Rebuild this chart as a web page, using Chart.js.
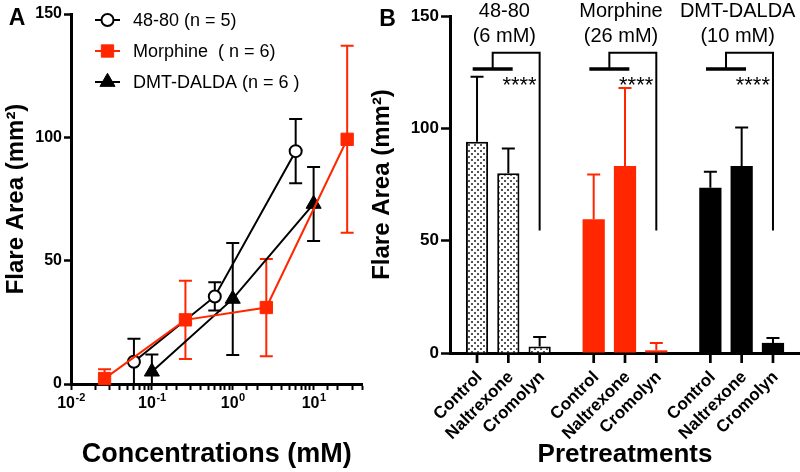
<!DOCTYPE html>
<html><head><meta charset="utf-8">
<script src="https://cdn.jsdelivr.net/npm/chart.js@4.4.1/dist/chart.umd.min.js"></script>
<style>
html,body{margin:0;padding:0;background:#fff;}
#wrap{position:relative;width:800px;height:472px;overflow:hidden;background:#fff;}
#cA{position:absolute;left:0;top:0;}
#cB{position:absolute;left:360px;top:0;}
</style></head><body>
<div id="wrap">
<canvas id="cA" width="372" height="472"></canvas>
<canvas id="cB" width="440" height="472"></canvas>
</div>
<script>
// ---------- Panel A data ----------
const seriesNames = ['48-80 (n = 5)', 'Morphine  ( n = 6)', 'DMT-DALDA (n = 6 )'];
const conc4880 = [0.06, 0.6, 6];
const flare4880 = [9, 35.5, 94.4];
const sem4880 = [9.3, 5.7, 13];
const concMorphine = [0.026, 0.26, 2.6, 26];
const flareMorphine = [2.2, 26, 31, 99.2];
const semMorphine = [3.8, 15.9, 19.7, 37.9];
const concDmt = [0.1, 1, 10];
const flareDmt = [5, 34.5, 73];
const semDmt = [7, 22.7, 15];
const xTickValues = [0.01, 0.1, 1, 10];
const xTickBase = '10';
const xTickExponents = ['-2', '-1', '0', '1'];
const yTickStep = 50;

// ---------- Panel B data ----------
const groups = ['48-80', 'Morphine', 'DMT-DALDA'];
const groupDoses = ['(6 mM)', '(26 mM)', '(10 mM)'];
const pretreatments = ['Control', 'Naltrexone', 'Cromolyn'];
const controlMean = [94, 59.5, 73.6];
const controlErr = [29, 20, 7.1];
const naltrexoneMean = [80, 83.2, 83.2];
const naltrexoneErr = [11, 34.8, 17.2];
const cromolynMean = [2.9, 1.2, 4.5];
const cromolynErr = [4.2, 3.2, 2.2];
const sigLabel = '****';

const RED = 'rgb(255,38,0)';
const FONT = '"Liberation Sans", Arial, Helvetica, sans-serif';
Chart.defaults.font.family = FONT;
Chart.defaults.color = '#000';

const pts = (xs, ys) => xs.map((x, i) => ({x: x, y: ys[i]}));

// ---------- Panel A plugins ----------
const errorBarsA = {
  id: 'errorBarsA',
  beforeDatasetsDraw(chart) {
    const ctx = chart.ctx, xs = chart.scales.x, ys = chart.scales.y;
    chart.data.datasets.forEach(ds => {
      ctx.save();
      ctx.strokeStyle = ds.borderColor; ctx.lineWidth = 2;
      ds.data.forEach((p, i) => {
        const e = ds.err[i];
        const x = xs.getPixelForValue(p.x);
        const yt = ys.getPixelForValue(p.y + e);
        const lowV = p.y - e;
        const yb = ys.getPixelForValue(Math.max(0, lowV));
        ctx.beginPath();
        ctx.moveTo(x, yt); ctx.lineTo(x, yb);
        ctx.moveTo(x - 6.5, yt); ctx.lineTo(x + 6.5, yt);
        if (lowV > 0) { ctx.moveTo(x - 6.5, yb); ctx.lineTo(x + 6.5, yb); }
        ctx.stroke();
      });
      ctx.restore();
    });
  }
};
const legendA = {
  id: 'legendA',
  afterDraw(chart) {
    const ctx = chart.ctx, xs = chart.scales.x;
    ctx.save();
    chart.data.datasets.forEach((ds, i) => {
      const y = 20 + i * 31;
      ctx.strokeStyle = ds.borderColor; ctx.lineWidth = 2;
      ctx.beginPath(); ctx.moveTo(95, y); ctx.lineTo(120, y); ctx.stroke();
      ctx.fillStyle = ds.pointBackgroundColor; ctx.strokeStyle = ds.borderColor;
      ctx.lineWidth = ds.pointBorderWidth;
      Chart.helpers.drawPoint(ctx, {pointStyle: ds.pointStyle, radius: ds.pointRadius, borderWidth: ds.pointBorderWidth, rotation: 0}, 107.5, y);
      ctx.fillStyle = '#000';
      ctx.font = '18px ' + FONT;
      ctx.textAlign = 'left'; ctx.textBaseline = 'middle';
      ctx.fillText(ds.label, 133, y + 1);
    });
    // decade tick labels with superscript exponents
    ctx.fillStyle = '#000'; ctx.textAlign = 'left'; ctx.textBaseline = 'alphabetic';
    xTickValues.forEach((v, k) => {
      const x = xs.getPixelForValue(v);
      ctx.font = 'bold 16px ' + FONT;
      const w1 = ctx.measureText(xTickBase).width;
      ctx.font = 'bold 11px ' + FONT;
      const w2 = ctx.measureText(xTickExponents[k]).width;
      const x0 = x - (w1 + w2) / 2;
      ctx.font = 'bold 16px ' + FONT;
      ctx.fillText(xTickBase, x0, 408);
      ctx.font = 'bold 11px ' + FONT;
      ctx.fillText(xTickExponents[k], x0 + w1 + 0.5, 401);
    });
    ctx.font = 'bold 23px ' + FONT;
    ctx.textAlign = 'center'; ctx.textBaseline = 'middle';
    ctx.fillText('A', 17, 19);
    ctx.restore();
  }
};

new Chart(document.getElementById('cA'), {
  type: 'line',
  data: {
    datasets: [
      {label: seriesNames[0], data: pts(conc4880, flare4880), err: sem4880,
       borderColor: '#000', backgroundColor: '#fff', pointBackgroundColor: '#fff',
       pointStyle: 'circle', pointRadius: 6, pointBorderWidth: 2, borderWidth: 2, order: 1},
      {label: seriesNames[1], data: pts(concMorphine, flareMorphine), err: semMorphine,
       borderColor: RED, backgroundColor: RED, pointBackgroundColor: RED,
       pointStyle: 'rect', pointRadius: 8.7, pointBorderWidth: 1, borderWidth: 2, order: 0},
      {label: seriesNames[2], data: pts(concDmt, flareDmt), err: semDmt,
       borderColor: '#000', backgroundColor: '#000', pointBackgroundColor: '#000',
       pointStyle: 'triangle', pointRadius: 8.7, pointBorderWidth: 1, borderWidth: 2, order: 2}
    ]
  },
  options: {
    responsive: false, animation: false, events: [],
    layout: {padding: {top: 14, right: 6, left: 0, bottom: 0}},
    elements: {line: {tension: 0}},
    datasets: {line: {clip: false}},
    plugins: {legend: {display: false}, tooltip: {enabled: false}},
    scales: {
      x: {
        type: 'logarithmic', min: 0.01, max: 40,
        border: {display: true, color: '#000', width: 3},
        grid: {display: true, drawOnChartArea: false, drawTicks: true, tickLength: 6, tickColor: '#000', tickWidth: 2},
        ticks: {autoSkip: false, maxRotation: 0, minRotation: 0, padding: 3, callback: () => ''},
        title: {display: true, text: 'Concentrations (mM)', color: '#000', font: {size: 27, weight: 'bold'}, padding: {top: 0, bottom: 1}},
        afterFit: (s) => { s.height = 88; }
      },
      y: {
        min: 0, max: 150,
        border: {display: true, color: '#000', width: 3},
        grid: {display: true, drawOnChartArea: false, drawTicks: true, tickLength: 7, tickColor: '#000', tickWidth: 2.5},
        ticks: {stepSize: yTickStep, padding: 2, color: '#000', font: {size: 16, weight: 'bold'}},
        title: {display: true, text: 'Flare Area (mm²)', color: '#000', font: {size: 24, weight: 'bold'}, padding: {top: 2, bottom: 0}},
        afterFit: (s) => { s.width = 71; }
      }
    }
  },
  plugins: [errorBarsA, legendA]
});

// ---------- Panel B ----------
const cB = document.getElementById('cB');
const ctxB = cB.getContext('2d');
function makeStipple() {
  const c = document.createElement('canvas'); c.width = 6; c.height = 6;
  const g = c.getContext('2d');
  g.fillStyle = '#fff'; g.fillRect(0, 0, 6, 6);
  g.fillStyle = '#555'; g.fillRect(0, 0, 2, 2); g.fillRect(3, 3, 2, 2);
  return ctxB.createPattern(c, 'repeat');
}
const stipple = makeStipple();
const groupFill = [stipple, RED, '#000'];
const groupLine = ['#000', RED, '#000'];
const groupBorderW = [2, 0, 0];

const barsB = {
  id: 'barsB',
  afterDatasetsDraw(chart) {
    const ctx = chart.ctx, ys = chart.scales.y, xs = chart.scales.x, area = chart.chartArea;
    ctx.save();
    chart.data.datasets.forEach((ds, i) => {
      const meta = chart.getDatasetMeta(i);
      meta.data.forEach((el, j) => {
        const yt = ys.getPixelForValue(ds.data[j] + ds.err[j]);
        ctx.strokeStyle = groupLine[j]; ctx.lineWidth = 2;
        ctx.beginPath();
        ctx.moveTo(el.x, el.y); ctx.lineTo(el.x, yt);
        ctx.moveTo(el.x - 6.5, yt); ctx.lineTo(el.x + 6.5, yt);
        ctx.stroke();
      });
    });
    chart.data.datasets.forEach((ds, i) => {
      const meta = chart.getDatasetMeta(i);
      meta.data.forEach((el) => {
        ctx.strokeStyle = '#000'; ctx.lineWidth = 2.7;
        ctx.beginPath(); ctx.moveTo(el.x, area.bottom); ctx.lineTo(el.x, area.bottom + 10); ctx.stroke();
        ctx.save();
        ctx.translate(el.x + 2.5, area.bottom + 21.5);
        ctx.rotate(-Math.PI / 4);
        ctx.fillStyle = '#000'; ctx.font = 'bold 17px ' + FONT;
        ctx.textAlign = 'right'; ctx.textBaseline = 'middle';
        ctx.fillText(ds.label, 0, 0);
        ctx.restore();
      });
    });
    const m0 = chart.getDatasetMeta(0), m1 = chart.getDatasetMeta(1), m2 = chart.getDatasetMeta(2);
    groups.forEach((g, j) => {
      const gx = xs.getPixelForValue(j) - 4;
      ctx.fillStyle = '#000'; ctx.font = '20px ' + FONT;
      ctx.textAlign = 'center'; ctx.textBaseline = 'middle';
      ctx.fillText(g, gx, 11);
      ctx.fillText(groupDoses[j], gx, 36);
      const cx = m0.data[j].x, nx = m1.data[j].x, rx = m2.data[j].x;
      const mid = (cx + nx) / 2;
      const yPair = ys.getPixelForValue(126.4), yTop = ys.getPixelForValue(133.6), yEnd = ys.getPixelForValue(54.5);
      ctx.strokeStyle = '#000';
      ctx.lineWidth = 3.5;
      ctx.beginPath(); ctx.moveTo(mid - 20, yPair); ctx.lineTo(mid + 20, yPair); ctx.stroke();
      ctx.lineWidth = 2;
      ctx.beginPath(); ctx.moveTo(mid, yPair); ctx.lineTo(mid, yTop); ctx.lineTo(rx, yTop); ctx.lineTo(rx, yEnd); ctx.stroke();
      ctx.font = '22px ' + FONT; ctx.textAlign = 'right'; ctx.textBaseline = 'alphabetic';
      ctx.fillText(sigLabel, rx - 3, ys.getPixelForValue(116));
    });
    ctx.font = 'bold 23px ' + FONT; ctx.textAlign = 'center'; ctx.textBaseline = 'middle';
    ctx.fillText('B', 27.5, 20);
    ctx.restore();
  }
};

new Chart(cB, {
  type: 'bar',
  data: {
    labels: groups,
    datasets: [
      {label: pretreatments[0], data: controlMean, err: controlErr, backgroundColor: groupFill, borderColor: groupLine, borderWidth: groupBorderW},
      {label: pretreatments[1], data: naltrexoneMean, err: naltrexoneErr, backgroundColor: groupFill, borderColor: groupLine, borderWidth: groupBorderW},
      {label: pretreatments[2], data: cromolynMean, err: cromolynErr, backgroundColor: groupFill, borderColor: groupLine, borderWidth: groupBorderW}
    ]
  },
  options: {
    responsive: false, animation: false, events: [],
    layout: {padding: {top: 16, right: 0, left: 0, bottom: 0}},
    datasets: {bar: {categoryPercentage: 0.805, barPercentage: 0.71}},
    plugins: {legend: {display: false}, tooltip: {enabled: false}},
    scales: {
      x: {
        border: {display: true, color: '#000', width: 3},
        grid: {display: false},
        ticks: {display: false},
        title: {display: true, text: 'Pretreatments', color: '#000', font: {size: 26, weight: 'bold'}, padding: {top: 0, bottom: 2}},
        afterFit: (s) => { s.height = 119; }
      },
      y: {
        min: 0, max: 150,
        border: {display: true, color: '#000', width: 3},
        grid: {display: true, drawOnChartArea: false, drawTicks: true, tickLength: 9, tickColor: '#000', tickWidth: 2.5},
        ticks: {stepSize: yTickStep, padding: 2, color: '#000', font: {size: 17, weight: 'bold'}},
        title: {display: true, text: 'Flare Area (mm²)', color: '#000', font: {size: 24, weight: 'bold'}, padding: {top: 8, bottom: 0}},
        afterFit: (s) => { s.width = 90; }
      }
    }
  },
  plugins: [barsB]
});
</script>
</body></html>
